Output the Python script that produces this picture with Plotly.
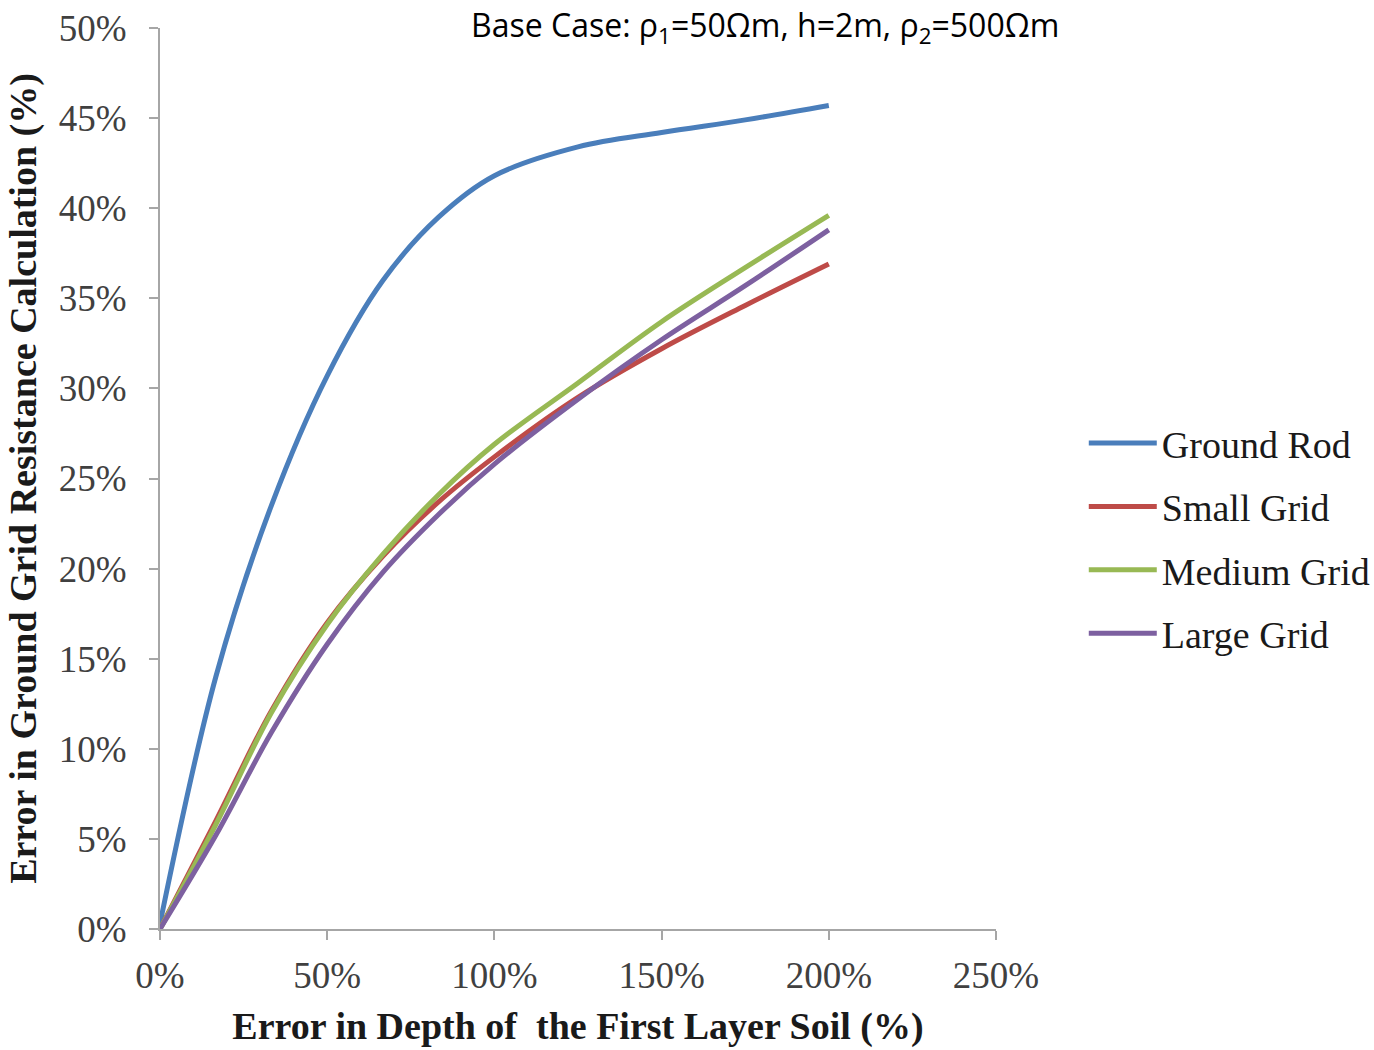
import plotly.graph_objects as go

# Data
depth_error = [0, 16.7, 33.3, 50, 66.7, 83.3, 100, 125, 150, 175, 200]
ground_rod = [0.3, 14.0, 23.5, 30.7, 36.0, 39.5, 41.8, 43.4, 44.2, 44.9, 45.7]
small_grid = [0, 6.0, 12.1, 17.0, 20.7, 23.7, 26.2, 29.5, 32.2, 34.6, 36.9]
medium_grid = [0, 5.8, 12.0, 16.9, 20.8, 24.1, 26.9, 30.3, 33.7, 36.7, 39.6]
large_grid = [0, 5.2, 10.9, 15.8, 19.8, 23.0, 25.8, 29.4, 32.7, 35.7, 38.8]

series_names = ["Ground Rod", "Small Grid", "Medium Grid", "Large Grid"]
series_values = [ground_rod, small_grid, medium_grid, large_grid]
series_colors = ["#4a7ebb", "#be4b48", "#98b954", "#7d60a0"]

x_tick_vals = [0, 50, 100, 150, 200, 250]
x_tick_text = ["0%", "50%", "100%", "150%", "200%", "250%"]
y_tick_vals = [0, 5, 10, 15, 20, 25, 30, 35, 40, 45, 50]
y_tick_text = ["0%", "5%", "10%", "15%", "20%", "25%", "30%", "35%", "40%", "45%", "50%"]

title_text = "Base Case: ρ<sub>1</sub>=50Ωm, h=2m, ρ<sub>2</sub>=500Ωm"
x_title = "Error in Depth of  the First Layer Soil (%)"
y_title = "Error in Ground Grid Resistance Calculation (%)"

SERIF = "Liberation Serif"

fig = go.Figure()
for i, (name, vals, col) in enumerate(zip(series_names, series_values, series_colors)):
    fig.add_trace(go.Scatter(
        x=depth_error, y=vals, name=name, mode="lines",
        line=dict(color=col, width=5, shape="spline", smoothing=1.0),
        legendgroup=f"g{i}",
    ))

axis_col = "#a6a6a6"
fig.update_layout(
    width=1374, height=1050,
    margin=dict(l=160, r=378, t=28, b=121, autoexpand=False),
    paper_bgcolor="white", plot_bgcolor="white",
    showlegend=True,
    legend=dict(
        x=1.105, y=0.574, xanchor="left", yanchor="top",
        font=dict(family=SERIF, size=38, color="#1a1a1a"),
        tracegroupgap=11, itemwidth=68,
        bgcolor="rgba(0,0,0,0)",
    ),
    xaxis=dict(
        range=[0, 250], tickvals=x_tick_vals, ticktext=x_tick_text,
        showline=True, linecolor=axis_col, linewidth=2,
        ticks="outside", ticklen=9, tickcolor=axis_col, tickwidth=2,
        showgrid=False, zeroline=False, ticklabelstandoff=4, automargin=False,
        tickfont=dict(family=SERIF, size=37, color="#404040"),
        title=dict(text=f"<b>{x_title}</b>", font=dict(family=SERIF, size=38, color="#1a1a1a"), standoff=17),
    ),
    yaxis=dict(
        range=[0, 50], tickvals=y_tick_vals, ticktext=y_tick_text,
        showline=True, linecolor=axis_col, linewidth=2,
        ticks="outside", ticklen=9, tickcolor=axis_col, tickwidth=2,
        showgrid=False, zeroline=False, ticklabelstandoff=15, automargin=False,
        tickfont=dict(family=SERIF, size=37, color="#404040"),
        title=dict(text=f"<b>{y_title}</b>", font=dict(family=SERIF, size=38, color="#1a1a1a"), standoff=10),
    ),
    annotations=[dict(
        text=title_text, x=0.7237, y=1.030, xref="paper", yref="paper",
        xanchor="center", yanchor="top", showarrow=False,
        font=dict(family="Open Sans", size=32, color="black"),
    )],
)

fig.write_html("out.html")
